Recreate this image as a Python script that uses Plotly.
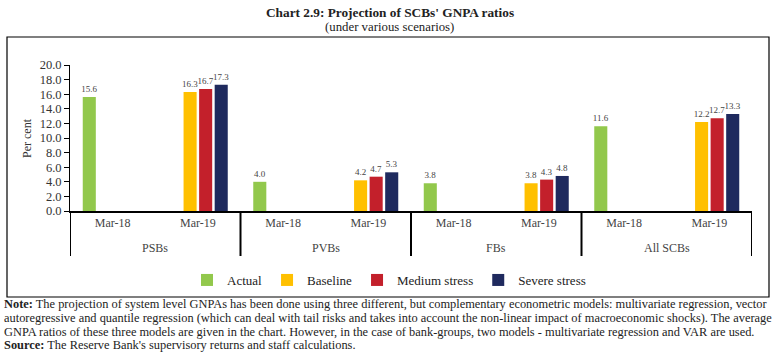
import plotly.graph_objects as go

groups = ["PSBs", "PVBs", "FBs", "All SCBs"]
periods = ["Mar-18", "Mar-19"]
actual = [15.6, None, 4.0, None, 3.8, None, 11.6, None]
baseline = [None, 16.3, None, 4.2, None, 3.8, None, 12.2]
medium = [None, 16.7, None, 4.7, None, 4.3, None, 12.7]
severe = [None, 17.3, None, 5.3, None, 4.8, None, 13.3]

series = [
    ("Actual", actual, "#92C84C"),
    ("Baseline", baseline, "#FFC000"),
    ("Medium stress", medium, "#C3202B"),
    ("Severe stress", severe, "#1F2A5E"),
]

note_lines = [
    "<b>Note:</b> The projection of system level GNPAs has been done using three different, but complementary econometric models: multivariate regression, vector",
    "autoregressive and quantile regression (which can deal with tail risks and takes into account the non-linear impact of macroeconomic shocks). The average",
    "GNPA ratios of these three models are given in the chart. However, in the case of bank-groups, two models - multivariate regression and VAR are used.",
    "<b>Source:</b> The Reserve Bank's supervisory returns and staff calculations.",
]

FONT = "Liberation Serif"

cats = [f"{g}|{p}" for g in groups for p in periods]
tick_text = [p for g in groups for p in periods]

fig = go.Figure()
for name, vals, col in series:
    fig.add_trace(go.Bar(
        x=cats, y=vals, name=name, marker_color=col,
        marker_line_width=0,
        text=[None if v is None else f"{v:.1f}" for v in vals],
        textposition="outside", textfont=dict(family=FONT, size=9, color="#444"),
        constraintext="none", cliponaxis=False,
    ))

L, R, T, B = 70, 26, 65, 153
W, H = 778, 364
pw, ph = W - L - R, H - T - B

def px(x):
    return (x - L) / pw

def py(y):
    return (H - B - y) / ph

fig.update_layout(
    width=W, height=H, margin=dict(l=L, r=R, t=T, b=B, autoexpand=False),
    plot_bgcolor="white", paper_bgcolor="white",
    barmode="group", bargap=0.27, bargroupgap=0.16,
    font=dict(family=FONT, color="#333"),
    showlegend=True,
    legend=dict(orientation="h", x=px(389), xanchor="center", y=py(280), yanchor="middle",
                font=dict(family=FONT, size=13, color="#222"), itemwidth=30,
                traceorder="normal"),
    xaxis=dict(type="category", categoryorder="array", categoryarray=cats,
               tickvals=cats, ticktext=tick_text, range=[-0.5, len(cats) - 0.5],
               showline=True, linecolor="black", linewidth=2,
               ticks="", showgrid=False, tickfont=dict(family=FONT, size=12, color="#444")),
    yaxis=dict(range=[0, 20], dtick=2, tickformat=".1f", showline=True, linecolor="black",
               linewidth=1, ticks="outside", ticklen=5, tickcolor="black", showgrid=False,
               zeroline=False, tickfont=dict(family=FONT, size=12.5, color="#333")),
)

# group dividers and group labels, placed on the category scale
for k in range(len(groups) + 1):
    fig.add_shape(type="line", xref="x", yref="paper", x0=2 * k - 0.5, x1=2 * k - 0.5,
                  y0=0, y1=py(256), line=dict(color="black", width=2))
for k, g in enumerate(groups):
    fig.add_annotation(text=g, xref="x", yref="paper", x=2 * k + 0.5, y=py(248),
                       showarrow=False, xanchor="center", yanchor="middle",
                       font=dict(family=FONT, size=12, color="#444"))

fig.add_shape(type="rect", xref="paper", yref="paper", x0=px(7), x1=px(769), y0=py(297), y1=py(37),
              line=dict(color="black", width=1.2), fillcolor="rgba(0,0,0,0)", layer="below")

fig.add_annotation(text="<b>Chart 2.9: Projection of SCBs' GNPA ratios</b>", xref="paper", yref="paper",
                   x=px(390), y=py(12), showarrow=False, font=dict(family=FONT, size=13.3, color="#222"),
                   xanchor="center", yanchor="middle")
fig.add_annotation(text="(under various scenarios)", xref="paper", yref="paper",
                   x=px(389), y=py(27), showarrow=False, font=dict(family=FONT, size=12.8, color="#222"),
                   xanchor="center", yanchor="middle")
fig.add_annotation(text="Per cent", xref="paper", yref="paper", x=px(27), y=py(138), textangle=-90,
                   showarrow=False, font=dict(family=FONT, size=12, color="#333"),
                   xanchor="center", yanchor="middle")

for i, line in enumerate(note_lines):
    fig.add_annotation(text=line, xref="paper", yref="paper", x=px(2), y=py(304 + 13.8 * i),
                       xanchor="left", yanchor="middle", align="left", showarrow=False,
                       font=dict(family=FONT, size=12.4, color="#222"))

fig.write_html("out.html", config={"displayModeBar": False},
               post_script="document.body.style.margin='0';")
